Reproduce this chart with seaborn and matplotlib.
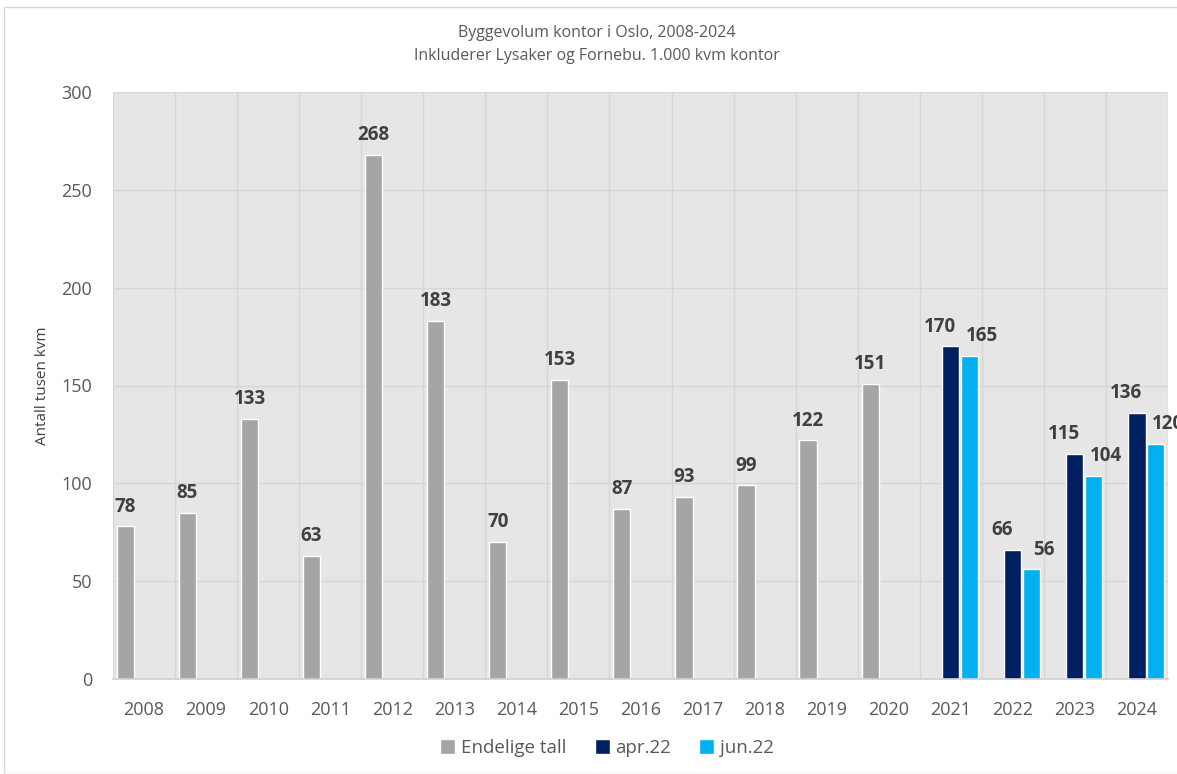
import matplotlib
matplotlib.use("Agg")
import matplotlib.pyplot as plt
import seaborn as sns
import pandas as pd
from matplotlib.patches import Rectangle

years = [str(y) for y in range(2008, 2025)]
endelige_years = [str(y) for y in range(2008, 2021)]
endelige = [78, 85, 133, 63, 268, 183, 70, 153, 87, 93, 99, 122, 151]
prog_years = ["2021", "2022", "2023", "2024"]
apr22 = [170, 66, 115, 136]
jun22 = [165, 56, 104, 120]
series_names = ["Endelige tall", "apr.22", "jun.22"]
colors = ["#A5A5A5", "#002060", "#00B0F0"]

rows = []
for y, v in zip(endelige_years, endelige):
    rows.append((y, series_names[0], v))
for y, v in zip(prog_years, apr22):
    rows.append((y, series_names[1], v))
for y, v in zip(prog_years, jun22):
    rows.append((y, series_names[2], v))
df = pd.DataFrame(rows, columns=["year", "serie", "value"])

sns.set_theme(style="white")
plt.rcParams["font.family"] = ["Open Sans", "DejaVu Sans"]

fig = plt.figure(figsize=(11.77, 7.74), dpi=100)
ax = fig.add_axes([113/1177, 1 - 679/774, (1168-113)/1177, (679-92)/774])

sns.barplot(data=df, x="year", y="value", hue="serie", order=years,
            hue_order=series_names, palette=colors, width=0.9, gap=0.08,
            dodge=True, ax=ax, saturation=1, legend=True)

ax.set_facecolor("#E6E6E6")
ax.set_ylim(0, 300)
ax.set_yticks(range(0, 301, 50))
ax.set_xlim(-0.5, len(years) - 0.5)
ax.grid(axis="y", color="#D6D6D6", linewidth=1)
for i in range(len(years) + 1):
    ax.axvline(i - 0.5, color="#D6D6D6", linewidth=1, zorder=0)
ax.set_axisbelow(True)
for s in ["top", "right", "left"]:
    ax.spines[s].set_visible(False)
ax.spines["bottom"].set_color("#CFCFCF")
ax.spines["bottom"].set_linewidth(1.2)
ax.tick_params(axis="both", length=0, labelsize=13, colors="#595959")
ax.tick_params(axis="x", pad=16)
ax.tick_params(axis="y", pad=15)
ax.set_xlabel("")
ax.set_ylabel("Antall tusen kvm", fontsize=11, color="#404040")
ax.yaxis.set_label_coords(-0.06, 0.5)

# label horizontal shifts (px) per series, as in the reference
shifts = [0, -8, 9]
for cont, dx in zip(ax.containers, shifts):
    texts = ax.bar_label(cont, fmt="%.0f", padding=7, fontsize=13.5,
                         fontweight="bold", color="#404040", clip_on=False)
    for t in texts:
        t.set_position((dx, 7))

handles, labels = ax.get_legend_handles_labels()
ax.legend_.remove()
fig.legend(handles, labels, loc="center", bbox_to_anchor=(607/1177, 1 - 748/774),
           ncol=3, frameon=False, fontsize=13.5, labelcolor="#595959",
           handlelength=0.8, handleheight=0.8, handletextpad=0.3, columnspacing=1.5)

fig.text(597/1177, 1 - 33/774, "Byggevolum kontor i Oslo, 2008-2024", ha="center",
         va="center", fontsize=11.5, color="#595959")
fig.text(597/1177, 1 - 56/774, "Inkluderer Lysaker og Fornebu. 1.000 kvm kontor",
         ha="center", va="center", fontsize=11.5, color="#595959")

fig.patches.append(Rectangle((4/1177, 0), 1.2, 1 - 7/774, transform=fig.transFigure,
                             fill=False, edgecolor="#D9D9D9", linewidth=1))

fig.savefig("out.png", dpi=100)
